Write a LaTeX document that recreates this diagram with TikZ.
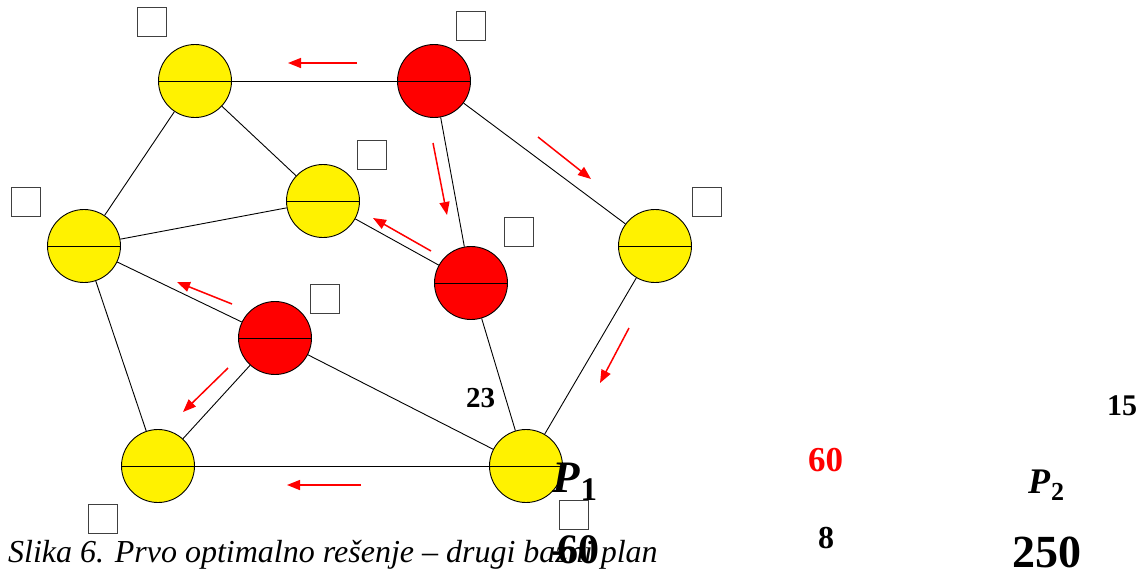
\documentclass[tikz,border=0pt]{standalone}
\usepackage{fontspec}
\setmainfont{Liberation Serif}
\usetikzlibrary{arrows.meta}
\tikzset{
  vtx/.style={circle, draw=black, line width=0.9pt, minimum size=73pt, inner sep=0pt},
  yel/.style={vtx, fill=yellow},
  rd/.style={vtx, fill=red},
  sq/.style={draw=black!75, line width=1pt, minimum size=29pt, inner sep=0pt},
  edge/.style={draw=black, line width=0.9pt},
  flow/.style={draw=red, line width=1.5pt, -{Triangle[length=13pt,width=10pt]}},
  lbl/.style={inner sep=0pt, anchor=base west, font=\bfseries}
}
\newcommand{\fs}[1]{\fontsize{#1}{#1}\selectfont}
\begin{document}
\begin{tikzpicture}[x=1pt,y=-1pt]
\useasboundingbox (0,0) rectangle (1142,571);
% vertices
\node[yel] (A) at (195,81) {};
\node[rd]  (B) at (434,81) {};
\node[yel] (C) at (323,201) {};
\node[yel] (D) at (84,246) {};
\node[rd]  (E) at (471,283) {};
\node[yel] (F) at (655,246) {};
\node[rd]  (G) at (275,338) {};
\node[yel] (H) at (158,466) {};
\node[yel] (I) at (526,466) {};
% edges
\foreach \a/\b in {A/B,A/D,A/C,B/E,B/F,C/D,C/E,D/G,D/H,G/H,G/I,E/I,F/I,H/I}
  \path[edge] (\a) -- (\b);
% diameter lines
\foreach \n in {A,B,C,D,E,F,G,H,I}
  \draw[line width=0.9pt] (\n.west) -- (\n.east);
% squares
\node[sq] (sA) at (151.5,22) {};
\node[sq] (sB) at (471,26) {};
\node[sq] (sC) at (371.5,155) {};
\node[sq] (sD) at (26,202) {};
\node[sq] (sE) at (519,232) {};
\node[sq] (sF) at (706.5,202) {};
\node[sq] (sG) at (324.5,298.5) {};
\node[sq] (sH) at (103,518.5) {};
\node[sq] (sI) at (574,514.5) {};
% flow arrows
\coordinate (a1s) at (357,63);  \coordinate (a1t) at (288,63);
\coordinate (a2s) at (433,143); \coordinate (a2t) at (447,215);
\coordinate (a3s) at (538,137); \coordinate (a3t) at (591,179);
\coordinate (a4s) at (431,251); \coordinate (a4t) at (373,218);
\coordinate (a5s) at (232,304); \coordinate (a5t) at (177,282);
\coordinate (a6s) at (629,328); \coordinate (a6t) at (600,383);
\coordinate (a7s) at (228,368); \coordinate (a7t) at (183,412);
\coordinate (a8s) at (361,485); \coordinate (a8t) at (287,485);
\foreach \i in {1,...,8}
  \draw[flow] (a\i s) -- (a\i t);
% labels
\node[lbl, font=\fs{29}\bfseries] (l23) at (466,407) {23};
\node[lbl, font=\fs{30}\bfseries] (l15) at (1107,415) {15};
\node[lbl, font=\fs{35}\bfseries, text=red] (l60) at (808,471) {60};
\node[lbl, font=\fs{32}\bfseries] (l8) at (818,548) {8};
\node[lbl] (P1) at (552,492) {\fs{45}\bfseries\itshape P\kern1pt\raisebox{-8pt}{\fs{33}\upshape 1}};
\node[lbl] (P2) at (1028,493) {\fs{36}\bfseries\itshape P\kern1pt\raisebox{-7pt}{\fs{26}\upshape 2}};
\node[lbl, font=\fs{46}\bfseries] (l250) at (1012,567) {250};
\node[anchor=base west, inner sep=0pt, font=\fs{32}\itshape] (cap) at (8,562) {Slika 6. Prvo optimalno rešenje – drugi bazni plan};
\node[lbl, font=\fs{42}\bfseries] (lm60) at (551,563) {-\kern-8pt60};
\end{tikzpicture}
\end{document}
